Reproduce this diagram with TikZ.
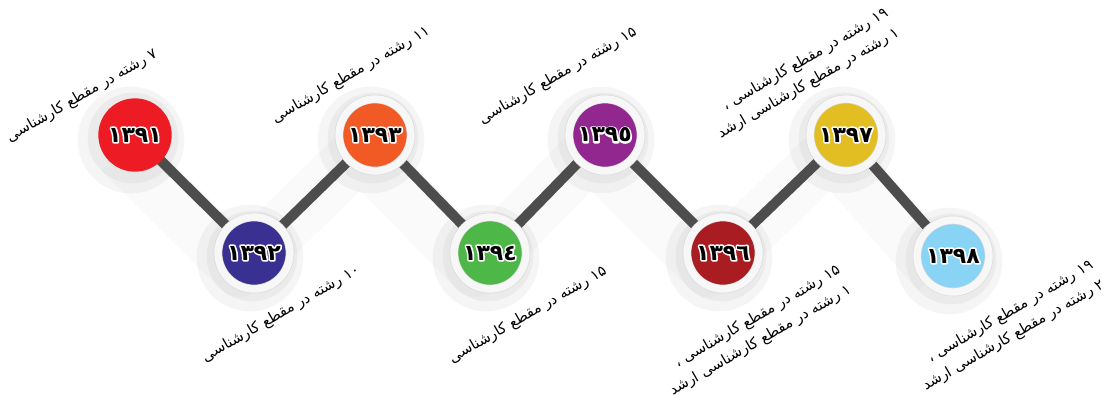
\documentclass[tikz,border=0pt]{standalone}
\usepackage{fontspec}
\usepackage{xcolor}
\usetikzlibrary{positioning}
\newfontfamily\arabicfont[Script=Arabic]{DejaVu Sans}
\TeXXeTstate=1
% white outline under the black digits
\newcommand\yrtxt[1]{\rlap{\special{pdf:code q 2 Tr 2.4 w 1 1 1 RG 1 1 1 rg 1 j 1 J}#1\special{pdf:code Q}}#1}
\definecolor{c91}{RGB}{237,28,36}
\definecolor{c92}{RGB}{58,48,146}
\definecolor{c93}{RGB}{241,90,36}
\definecolor{c94}{RGB}{77,183,72}
\definecolor{c95}{RGB}{146,39,143}
\definecolor{c96}{RGB}{168,28,34}
\definecolor{c97}{RGB}{227,190,34}
\definecolor{c98}{RGB}{137,212,245}
\definecolor{linkgray}{RGB}{77,77,77}
\pgfdeclarelayer{bg}
\pgfsetlayers{bg,main}

\begin{document}
\begin{tikzpicture}[x=0.75pt,y=-0.75pt,
  yr/.style={circle,fill=#1,minimum size=54pt,inner sep=0pt,draw=black!14,line width=0.5pt,double=black!3,double distance=5.5pt,font=\arabicfont\bfseries\fontsize{16.5}{16.5}\selectfont},
  yrfirst/.style={circle,fill=#1,minimum size=55pt,inner sep=0pt,font=\arabicfont\bfseries\fontsize{16.5}{16.5}\selectfont},
  lbl/.style={rotate=30,align=right,inner sep=0pt,font=\arabicfont\fontsize{11}{16.5}\selectfont},
  link/.style={line width=7.5pt,draw=linkgray},
  halo/.style={fill=black,opacity=0.04}]
  \useasboundingbox (0,0) rectangle (1104,394);
  \node[yrfirst=c91] (y91) at (135,135) {\yrtxt{١٣٩١}};
  \node[yr=c92] (y92) at (254,253) {\yrtxt{١٣٩٢}};
  \node[yr=c93] (y93) at (375,135) {\yrtxt{١٣٩٣}};
  \node[yr=c94] (y94) at (490,253) {\yrtxt{١٣٩٤}};
  \node[yr=c95] (y95) at (605,135) {\yrtxt{١٣٩٥}};
  \node[yr=c96] (y96) at (723,253) {\yrtxt{١٣٩٦}};
  \node[yr=c97] (y97) at (846,135) {\yrtxt{١٣٩٧}};
  \node[yr=c98] (y98) at (953,256) {\yrtxt{١٣٩٨}};
  % labels
  \node[lbl] (t91) at (82,96) {\beginR ۷ رشته در مقطع کارشناسی\endR};
  \node[lbl] (t92) at (281,314) {\beginR ۱۰ رشته در مقطع کارشناسی\endR};
  \node[lbl] (t93) at (351,75) {\beginR ۱۱ رشته در مقطع کارشناسی\endR};
  \node[lbl] (t94) at (528,315) {\beginR ۱۵ رشته در مقطع کارشناسی\endR};
  \node[lbl] (t95) at (558,76) {\beginR ۱۵ رشته در مقطع کارشناسی\endR};
  \node[lbl] (t96) at (755,331) {\beginR ۱۵ رشته در مقطع کارشناسی ،\endR\\\beginR ۱ رشته در  مقطع کارشناسی ارشد\endR};
  \node[lbl] (t97) at (803,74) {\beginR ۱۹ رشته در مقطع کارشناسی ،\endR\\\beginR ۱ رشته در مقطع کارشناسی ارشد\endR};
  \node[lbl] (t98) at (1008,326) {\beginR ۱۹ رشته در مقطع کارشناسی ،\endR\\\beginR ۲ رشته در مقطع کارشناسی ارشد\endR};
  \begin{pgfonlayer}{bg}
    \draw[line width=42pt,black,opacity=0.02,line join=round] ([shift={(-14,16)}]y91.center) -- ([shift={(-14,16)}]y92.center) -- ([shift={(-14,16)}]y93.center) -- ([shift={(-14,16)}]y94.center) -- ([shift={(-14,16)}]y95.center) -- ([shift={(-14,16)}]y96.center) -- ([shift={(-14,16)}]y97.center) -- ([shift={(-14,16)}]y98.center);
    \foreach \n in {y91,y92,y93,y94,y95,y96,y97,y98}{
      \fill[halo] ([shift={(-4,5)}]\n.center) circle (40pt);
      \fill[halo] ([shift={(-2,3)}]\n.center) circle (34pt);
    }
    \draw[link] (y91.center) -- (y92.center) -- (y93.center) -- (y94.center) -- (y95.center) -- (y96.center) -- (y97.center) -- (y98.center);
  \end{pgfonlayer}
\end{tikzpicture}
\end{document}
